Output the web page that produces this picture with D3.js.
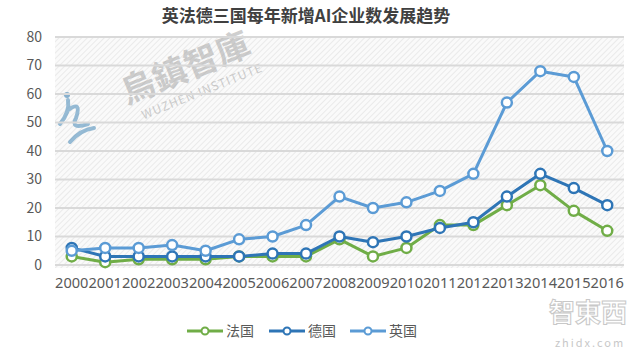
<!DOCTYPE html>
<html lang="zh">
  <head>
    <meta charset="UTF-8" />
    <title>英法德三国每年新增AI企业数发展趋势</title>
    <style>
      body { margin: 0; background: #fff; }
      svg text { font-family: "Noto Sans CJK SC", "Noto Sans", sans-serif; }
      .grid line { stroke: #d9d9d9; stroke-width: 2px; }
      .yaxis text, .xaxis text { fill: #595959; }
      .line { fill: none; stroke-width: 3px; stroke-linejoin: round; }
    </style>
  </head>
  <body>
    <script src="https://cdn.jsdelivr.net/npm/d3@7"></script>
    <script>
      var years = ["2000","2001","2002","2003","2004","2005","2006","2007","2008",
                   "2009","2010","2011","2012","2013","2014","2015","2016"];
      var france  = [3, 1, 2, 2, 2, 3, 3, 3, 9, 3, 6, 14, 14, 21, 28, 19, 12];
      var germany = [6, 3, 3, 3, 3, 3, 4, 4, 10, 8, 10, 13, 15, 24, 32, 27, 21];
      var uk      = [5, 6, 6, 7, 5, 9, 10, 14, 24, 20, 22, 26, 32, 57, 68, 66, 40];
      var seriesNames = ["法国", "德国", "英国"];
      var yTicks = [0, 10, 20, 30, 40, 50, 60, 70, 80];

      var w = 640, h = 353;
      var margin = { top: 37, right: 16, bottom: 88, left: 55 };
      var colors = ["#70ad47", "#2e75b6", "#5b9bd5"];

      var svg = d3.select("body").append("svg")
                  .attr("width", w)
                  .attr("height", h);

      // diagonal hatch background
      var pat = svg.append("defs").append("pattern")
                   .attr("id", "hatch")
                   .attr("patternUnits", "userSpaceOnUse")
                   .attr("width", 4).attr("height", 4)
                   .attr("patternTransform", "rotate(45)");
      pat.append("rect").attr("width", 4).attr("height", 4).attr("fill", "#fafafa");
      pat.append("line").attr("x1", 0).attr("y1", 0).attr("x2", 0).attr("y2", 4)
         .attr("stroke", "#e3e3e3").attr("stroke-width", 1.4);

      var xScale = d3.scaleBand()
                     .domain(years)
                     .range([margin.left, w - margin.right]);

      var yScale = d3.scaleLinear()
                     .domain([0, 80])
                     .range([h - margin.bottom, margin.top]);

      svg.append("rect")
         .attr("x", margin.left)
         .attr("y", yScale(80))
         .attr("width", w - margin.left - margin.right)
         .attr("height", yScale(0) - yScale(80) + 3)
         .attr("fill", "url(#hatch)");

      // watermark
      var wm = svg.append("g")
                  .attr("transform", "translate(130,112) rotate(-22)")
                  .attr("fill", "#a0a0a0")
                  .attr("opacity", 0.5);
      wm.append("text").attr("x", 0).attr("y", -8)
        .style("font-size", "34px").style("font-weight", "bold")
        .style("font-family", "'Noto Sans CJK TC'")
        .text("烏鎮智庫");
      wm.append("text").attr("x", 10).attr("y", 12)
        .style("font-size", "12px").style("letter-spacing", "1px")
        .text("WUZHEN   INSTITUTE");
      svg.append("circle").attr("cx", 67).attr("cy", 95).attr("r", 3)
         .attr("fill", "#6b9fc4").attr("opacity", 0.8);
      svg.append("path")
         .attr("d", "M60,124 Q70,112 68,100 M68,110 Q82,100 76,118 Q70,130 88,124 M70,142 Q80,130 94,128")
         .attr("fill", "none").attr("stroke", "#6b9fc4").attr("stroke-width", 4)
         .attr("stroke-linecap", "round").attr("opacity", 0.7);

      // gridlines
      svg.append("g")
         .attr("class", "grid")
         .selectAll("line")
         .data(yTicks)
         .enter()
         .append("line")
         .attr("x1", margin.left)
         .attr("x2", w - margin.right)
         .attr("y1", function(d) { return yScale(d); })
         .attr("y2", function(d) { return yScale(d); });

      var yAxis = d3.axisLeft(yScale).tickValues(yTicks).tickSize(0).tickPadding(13);
      svg.append("g")
         .attr("class", "yaxis")
         .attr("transform", "translate(" + margin.left + ",0)")
         .call(yAxis)
         .call(function(g) { g.select(".domain").remove(); })
         .selectAll("text")
         .style("font-size", "14px");

      var xAxis = d3.axisBottom(xScale).tickSize(0).tickPadding(13);
      svg.append("g")
         .attr("class", "xaxis")
         .attr("transform", "translate(0," + yScale(0) + ")")
         .call(xAxis)
         .call(function(g) { g.select(".domain").remove(); })
         .selectAll("text")
         .style("font-size", "14.6px")
         .style("font-family", "'Noto Sans', sans-serif");

      var series = [france, germany, uk];

      var line = d3.line()
                   .x(function(d, i) { return xScale(years[i]) + xScale.bandwidth() / 2; })
                   .y(function(d) { return yScale(d); });

      series.forEach(function(vals, k) {
        var g = svg.append("g");
        g.append("path")
         .datum(vals)
         .attr("class", "line")
         .attr("stroke", colors[k])
         .attr("d", line);
        g.selectAll("circle")
         .data(vals)
         .enter()
         .append("circle")
         .attr("cx", function(d, i) { return xScale(years[i]) + xScale.bandwidth() / 2; })
         .attr("cy", function(d) { return yScale(d); })
         .attr("r", 5)
         .attr("fill", "#fff")
         .attr("stroke", colors[k])
         .attr("stroke-width", 2.5);
      });

      // title
      svg.append("text")
         .attr("x", 306)
         .attr("y", 22)
         .attr("text-anchor", "middle")
         .attr("fill", "#404040")
         .style("font-size", "17px")
         .style("font-weight", "bold")
         .text("英法德三国每年新增AI企业数发展趋势");

      // legend
      var legendX = [187, 269, 350];
      var legend = svg.append("g").selectAll("g")
                      .data(seriesNames)
                      .enter()
                      .append("g")
                      .attr("transform", function(d, i) { return "translate(" + legendX[i] + ",331)"; });
      legend.append("line")
            .attr("x1", 0).attr("x2", 36).attr("y1", 0).attr("y2", 0)
            .attr("stroke", function(d, i) { return colors[i]; })
            .attr("stroke-width", 3);
      legend.append("circle")
            .attr("cx", 18).attr("cy", 0).attr("r", 3.5)
            .attr("fill", "#fff")
            .attr("stroke", function(d, i) { return colors[i]; })
            .attr("stroke-width", 2);
      legend.append("text")
            .attr("x", 39).attr("y", 5)
            .attr("fill", "#595959")
            .style("font-size", "14px")
            .text(function(d) { return d; });

      // corner watermark
      svg.append("text")
         .attr("x", 588).attr("y", 322)
         .attr("text-anchor", "middle")
         .attr("fill", "#fff").attr("stroke", "#c8c8c8").attr("stroke-width", 1)
         .style("font-size", "26px").style("font-weight", "bold")
         .style("font-family", "'Noto Sans CJK TC'")
         .text("智東西");
      svg.append("text")
         .attr("x", 590).attr("y", 347)
         .attr("text-anchor", "middle")
         .attr("fill", "#c8c8c8")
         .style("font-size", "11px").style("letter-spacing", "2px")
         .text("zhidx.com");
    </script>
  </body>
</html>
